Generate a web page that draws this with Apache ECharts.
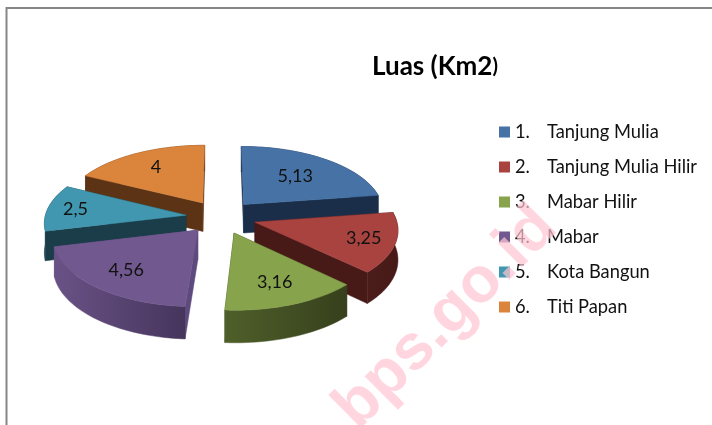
<!DOCTYPE html>
<html lang="en">
<head>
<meta charset="UTF-8">
<title>Luas (Km2)</title>
<script src="https://cdn.jsdelivr.net/npm/echarts@6/dist/echarts.min.js"></script>
<style>
    html, body { margin: 0; padding: 0; background: #fff; }
    #chart { width: 712px; height: 425px; }
</style>
</head>
<body>
<div id="chart"></div>
<script>
    // data
    const numbers = ['1.', '2.', '3.', '4.', '5.', '6.'];
    const names = ['Tanjung Mulia', 'Tanjung Mulia Hilir', 'Mabar Hilir', 'Mabar', 'Kota Bangun', 'Titi Papan'];
    const values = [5.13, 3.25, 3.16, 4.56, 2.5, 4];
    const valueLabels = ['5,13', '3,25', '3,16', '4,56', '2,5', '4'];

    const topColors = ['#4672a6', '#a84340', '#87a34c', '#71588f', '#4197af', '#da843c'];
    const wallColors = ['#1a2e4a', '#471a18', '#38431f', '#5f4a7e', '#1a3d49', '#5c3315'];
    const rimLeft = ['#1a2e4a', '#4a1c1a', '#4f5f2a', '#6a5286', '#1a3d49', '#5c3315'];
    const rimRight = ['#1a2e4a', '#471a18', '#36401c', '#45355c', '#1a3d49', '#5c3315'];
    const drawOrder = [5, 0, 4, 1, 3, 2];   // back slices first
    const labelRadius = [0.61, 0.78, 0.71, 0.72, 0.8, 0.7];

    // fake 3D pie: ground plane -> screen
    const cx = 221, cy = 217, radiusX = 141, radiusY = 67.3, persp = 0.1, depth = 29, explode = 0.25;
    const total = values.reduce((a, b) => a + b, 0);

    function project(X, Y, drop) {
        const s = 1 + persp * Y;
        return [cx + radiusX * X * s, cy + radiusY * Y * s + (drop || 0) * s];
    }
    function sliceAngles(idx) {
        let start = 0;
        for (let i = 0; i < idx; i++) start += values[i];
        return [start / total * 2 * Math.PI, (start + values[idx]) / total * 2 * Math.PI];
    }
    function sliceGeom(idx) {
        const [a0, a1] = sliceAngles(idx);
        const mid = (a0 + a1) / 2;
        const ox = explode * Math.sin(mid), oy = -explode * Math.cos(mid);
        const steps = Math.max(8, Math.round((a1 - a0) * 30));
        const arc = [];
        for (let i = 0; i <= steps; i++) {
            const a = a0 + (a1 - a0) * i / steps;
            arc.push([ox + Math.sin(a), oy - Math.cos(a)]);
        }
        return { ox, oy, arc, mid };
    }
    const poly = (pts, fill) => ({ type: 'polygon', shape: { points: pts }, style: { fill: fill, stroke: fill, lineWidth: 0.5 } });

    function renderSlice(idx) {
        return function () {
            const g = sliceGeom(idx);
            const apex = [g.ox, g.oy];
            const wall = (p) => poly([project(apex[0], apex[1]), project(p[0], p[1]), project(p[0], p[1], depth), project(apex[0], apex[1], depth)], wallColors[idx]);
            const first = g.arc[0], last = g.arc[g.arc.length - 1];
            const rimTop = g.arc.map(p => project(p[0], p[1]));
            const rimBottom = g.arc.map(p => project(p[0], p[1], depth)).reverse();
            const rimFill = new echarts.graphic.LinearGradient(0, 0, 1, 0, [
                { offset: 0, color: rimLeft[idx] }, { offset: 1, color: rimRight[idx] }
            ]);
            const topFace = [project(apex[0], apex[1])].concat(rimTop);
            const r = labelRadius[idx];
            const lab = project(g.ox + r * Math.sin(g.mid), g.oy - r * Math.cos(g.mid));
            return {
                type: 'group',
                children: [
                    wall(first),
                    wall(last),
                    poly(rimTop.concat(rimBottom), rimFill),
                    poly(topFace, topColors[idx]),
                    {
                        type: 'text',
                        style: {
                            text: valueLabels[idx], x: lab[0], y: lab[1], align: 'center', verticalAlign: 'middle',
                            fill: '#111', font: '18px Lato'
                        }
                    }
                ]
            };
        };
    }

    const chart = echarts.init(document.getElementById('chart'), null, { renderer: 'canvas' });
    chart.setOption({
        animation: false,
        backgroundColor: '#ffffff',
        title: {
            text: '{b|Luas (Km2}{p|)}',
            left: 367, top: 49,
            textStyle: {
                rich: {
                    b: { fontFamily: 'Lato', fontWeight: 'bold', fontSize: 26, color: '#000' },
                    p: { fontFamily: 'Lato', fontSize: 20, color: '#000' }
                }
            }
        },
        legend: {
            orient: 'vertical', left: 494, top: 118,
            icon: 'rect', itemWidth: 11, itemHeight: 11, itemGap: 17, selectedMode: false,
            data: names,
            formatter: function (name) {
                return '{n|' + numbers[names.indexOf(name)] + '}{t|' + name + '}';
            },
            textStyle: {
                rich: {
                    n: { width: 32, fontFamily: 'Lato', fontSize: 18.3, color: '#111', height: 17 },
                    t: { fontFamily: 'Lato', fontSize: 18.3, color: '#111', height: 17 }
                }
            }
        },
        series: drawOrder.map((idx, order) => ({
            type: 'custom',
            name: names[idx],
            z: 2 + order,
            itemStyle: { color: topColors[idx] },
            coordinateSystem: 'none',
            data: [values[idx]],
            renderItem: renderSlice(idx)
        })),
        graphic: [
            { type: 'polyline', z: 1, shape: { points: [[6.5, 425], [6.5, 8], [712, 8]] }, style: { stroke: '#868686', lineWidth: 2, fill: null } },
            {
                type: 'text', z: 100, x: 446, y: 318, rotation: 45 * Math.PI / 180, silent: true,
                style: {
                    text: 'bps.go.id', font: 'bold 64px "Liberation Sans"', fill: 'rgba(255,197,210,0.71)',
                    align: 'center', verticalAlign: 'middle'
                }
            }
        ]
    });
</script>
</body>
</html>
